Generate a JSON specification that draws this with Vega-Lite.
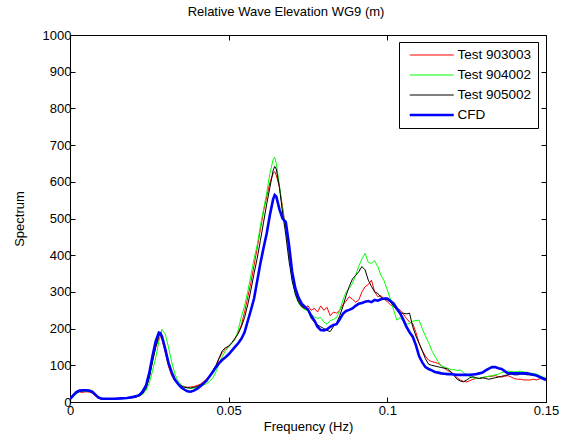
{
  "$schema": "https://vega.github.io/schema/vega-lite/v6.json",
  "width": 476,
  "height": 367,
  "autosize": {"type": "none"},
  "padding": {"left": 70, "top": 35, "right": 15, "bottom": 43},
  "background": "#ffffff",
  "title": {"text": "Relative Wave Elevation WG9 (m)", "font": "Liberation Sans", "fontSize": 13, "fontWeight": "normal", "color": "#000000", "dx": -22, "offset": 10},
  "config": {
    "view": {"stroke": "#000000", "strokeWidth": 1},
    "axis": {
      "domainColor": "#000000", "tickColor": "#000000", "tickSize": -5, "grid": false, "labelFlush": false,
      "labelFont": "Liberation Sans", "labelFontSize": 13, "labelColor": "#000000", "labelPadding": 4,
      "titleFont": "Liberation Sans", "titleFontSize": 13, "titleFontWeight": "normal", "titleColor": "#000000"
    }
  },
  "data": {"values": [
    {"f":0.000,"Test 903003":8,"Test 904002":8,"Test 905002":8,"CFD":8},
    {"f":0.001,"Test 903003":15,"Test 904002":14,"Test 905002":16,"CFD":18},
    {"f":0.002,"Test 903003":24,"Test 904002":22,"Test 905002":25,"CFD":27},
    {"f":0.003,"Test 903003":27,"Test 904002":28,"Test 905002":29,"CFD":31},
    {"f":0.004,"Test 903003":26,"Test 904002":29,"Test 905002":30,"CFD":32},
    {"f":0.005,"Test 903003":28,"Test 904002":30,"Test 905002":31,"CFD":32},
    {"f":0.006,"Test 903003":27,"Test 904002":29,"Test 905002":30,"CFD":31},
    {"f":0.007,"Test 903003":24,"Test 904002":26,"Test 905002":27,"CFD":28},
    {"f":0.008,"Test 903003":16,"Test 904002":19,"Test 905002":20,"CFD":20},
    {"f":0.009,"Test 903003":10,"Test 904002":12,"Test 905002":13,"CFD":12},
    {"f":0.010,"Test 903003":8,"Test 904002":9,"Test 905002":10,"CFD":9},
    {"f":0.012,"Test 903003":8,"Test 904002":8,"Test 905002":9,"CFD":9},
    {"f":0.014,"Test 903003":9,"Test 904002":8,"Test 905002":8,"CFD":9},
    {"f":0.016,"Test 903003":9,"Test 904002":9,"Test 905002":10,"CFD":10},
    {"f":0.018,"Test 903003":10,"Test 904002":10,"Test 905002":11,"CFD":11},
    {"f":0.020,"Test 903003":12,"Test 904002":13,"Test 905002":12,"CFD":14},
    {"f":0.021,"Test 903003":14,"Test 904002":15,"Test 905002":14,"CFD":16},
    {"f":0.022,"Test 903003":18,"Test 904002":17,"Test 905002":17,"CFD":20},
    {"f":0.023,"Test 903003":26,"Test 904002":22,"Test 905002":24,"CFD":30},
    {"f":0.024,"Test 903003":40,"Test 904002":32,"Test 905002":38,"CFD":46},
    {"f":0.025,"Test 903003":70,"Test 904002":52,"Test 905002":66,"CFD":80},
    {"f":0.026,"Test 903003":110,"Test 904002":85,"Test 905002":110,"CFD":125},
    {"f":0.027,"Test 903003":148,"Test 904002":120,"Test 905002":150,"CFD":165},
    {"f":0.028,"Test 903003":172,"Test 904002":165,"Test 905002":180,"CFD":189},
    {"f":0.0285,"Test 903003":178,"Test 904002":185,"Test 905002":185,"CFD":188},
    {"f":0.029,"Test 903003":170,"Test 904002":198,"Test 905002":178,"CFD":178},
    {"f":0.030,"Test 903003":135,"Test 904002":185,"Test 905002":140,"CFD":145},
    {"f":0.031,"Test 903003":98,"Test 904002":151,"Test 905002":105,"CFD":108},
    {"f":0.032,"Test 903003":72,"Test 904002":110,"Test 905002":78,"CFD":82},
    {"f":0.033,"Test 903003":58,"Test 904002":78,"Test 905002":60,"CFD":62},
    {"f":0.034,"Test 903003":50,"Test 904002":58,"Test 905002":50,"CFD":50},
    {"f":0.035,"Test 903003":45,"Test 904002":47,"Test 905002":44,"CFD":40},
    {"f":0.036,"Test 903003":42,"Test 904002":41,"Test 905002":40,"CFD":34},
    {"f":0.037,"Test 903003":40,"Test 904002":38,"Test 905002":39,"CFD":29},
    {"f":0.038,"Test 903003":41,"Test 904002":37,"Test 905002":38,"CFD":28},
    {"f":0.039,"Test 903003":42,"Test 904002":38,"Test 905002":40,"CFD":31},
    {"f":0.040,"Test 903003":45,"Test 904002":40,"Test 905002":42,"CFD":36},
    {"f":0.041,"Test 903003":48,"Test 904002":42,"Test 905002":46,"CFD":42},
    {"f":0.042,"Test 903003":55,"Test 904002":46,"Test 905002":52,"CFD":50},
    {"f":0.043,"Test 903003":62,"Test 904002":50,"Test 905002":60,"CFD":58},
    {"f":0.044,"Test 903003":72,"Test 904002":56,"Test 905002":70,"CFD":70},
    {"f":0.045,"Test 903003":85,"Test 904002":66,"Test 905002":86,"CFD":82},
    {"f":0.046,"Test 903003":98,"Test 904002":82,"Test 905002":100,"CFD":95},
    {"f":0.047,"Test 903003":118,"Test 904002":105,"Test 905002":120,"CFD":106},
    {"f":0.048,"Test 903003":135,"Test 904002":124,"Test 905002":140,"CFD":115},
    {"f":0.049,"Test 903003":145,"Test 904002":140,"Test 905002":148,"CFD":122},
    {"f":0.050,"Test 903003":152,"Test 904002":150,"Test 905002":152,"CFD":130},
    {"f":0.051,"Test 903003":160,"Test 904002":160,"Test 905002":162,"CFD":140},
    {"f":0.052,"Test 903003":172,"Test 904002":170,"Test 905002":174,"CFD":150},
    {"f":0.053,"Test 903003":188,"Test 904002":196,"Test 905002":186,"CFD":160},
    {"f":0.054,"Test 903003":210,"Test 904002":232,"Test 905002":205,"CFD":172},
    {"f":0.055,"Test 903003":245,"Test 904002":262,"Test 905002":230,"CFD":190},
    {"f":0.056,"Test 903003":285,"Test 904002":300,"Test 905002":265,"CFD":220},
    {"f":0.057,"Test 903003":325,"Test 904002":345,"Test 905002":305,"CFD":250},
    {"f":0.058,"Test 903003":372,"Test 904002":390,"Test 905002":350,"CFD":282},
    {"f":0.059,"Test 903003":420,"Test 904002":428,"Test 905002":392,"CFD":330},
    {"f":0.060,"Test 903003":470,"Test 904002":480,"Test 905002":440,"CFD":378},
    {"f":0.061,"Test 903003":520,"Test 904002":525,"Test 905002":490,"CFD":420},
    {"f":0.062,"Test 903003":560,"Test 904002":570,"Test 905002":540,"CFD":460},
    {"f":0.063,"Test 903003":598,"Test 904002":623,"Test 905002":585,"CFD":510},
    {"f":0.064,"Test 903003":622,"Test 904002":660,"Test 905002":630,"CFD":552},
    {"f":0.0645,"Test 903003":628,"Test 904002":667,"Test 905002":642,"CFD":564},
    {"f":0.065,"Test 903003":618,"Test 904002":650,"Test 905002":635,"CFD":560},
    {"f":0.066,"Test 903003":585,"Test 904002":590,"Test 905002":585,"CFD":525},
    {"f":0.067,"Test 903003":530,"Test 904002":520,"Test 905002":515,"CFD":500},
    {"f":0.068,"Test 903003":470,"Test 904002":475,"Test 905002":455,"CFD":490},
    {"f":0.069,"Test 903003":400,"Test 904002":410,"Test 905002":385,"CFD":430},
    {"f":0.070,"Test 903003":345,"Test 904002":335,"Test 905002":330,"CFD":355},
    {"f":0.071,"Test 903003":300,"Test 904002":292,"Test 905002":295,"CFD":310},
    {"f":0.072,"Test 903003":278,"Test 904002":270,"Test 905002":272,"CFD":285},
    {"f":0.073,"Test 903003":262,"Test 904002":258,"Test 905002":260,"CFD":268},
    {"f":0.074,"Test 903003":255,"Test 904002":252,"Test 905002":255,"CFD":260},
    {"f":0.075,"Test 903003":262,"Test 904002":248,"Test 905002":250,"CFD":252},
    {"f":0.076,"Test 903003":250,"Test 904002":240,"Test 905002":228,"CFD":235},
    {"f":0.077,"Test 903003":255,"Test 904002":232,"Test 905002":218,"CFD":222},
    {"f":0.078,"Test 903003":245,"Test 904002":228,"Test 905002":210,"CFD":205},
    {"f":0.079,"Test 903003":262,"Test 904002":230,"Test 905002":205,"CFD":196},
    {"f":0.080,"Test 903003":250,"Test 904002":218,"Test 905002":200,"CFD":195},
    {"f":0.081,"Test 903003":258,"Test 904002":212,"Test 905002":195,"CFD":198},
    {"f":0.082,"Test 903003":235,"Test 904002":222,"Test 905002":192,"CFD":205},
    {"f":0.083,"Test 903003":245,"Test 904002":225,"Test 905002":205,"CFD":210},
    {"f":0.084,"Test 903003":242,"Test 904002":230,"Test 905002":215,"CFD":212},
    {"f":0.085,"Test 903003":250,"Test 904002":250,"Test 905002":235,"CFD":225},
    {"f":0.086,"Test 903003":265,"Test 904002":278,"Test 905002":260,"CFD":240},
    {"f":0.087,"Test 903003":275,"Test 904002":300,"Test 905002":290,"CFD":248},
    {"f":0.088,"Test 903003":287,"Test 904002":310,"Test 905002":315,"CFD":251},
    {"f":0.089,"Test 903003":280,"Test 904002":323,"Test 905002":335,"CFD":255},
    {"f":0.090,"Test 903003":272,"Test 904002":345,"Test 905002":345,"CFD":262},
    {"f":0.091,"Test 903003":278,"Test 904002":370,"Test 905002":355,"CFD":268},
    {"f":0.092,"Test 903003":300,"Test 904002":390,"Test 905002":369,"CFD":270},
    {"f":0.093,"Test 903003":314,"Test 904002":405,"Test 905002":360,"CFD":273},
    {"f":0.094,"Test 903003":320,"Test 904002":380,"Test 905002":332,"CFD":275},
    {"f":0.095,"Test 903003":332,"Test 904002":378,"Test 905002":315,"CFD":272},
    {"f":0.096,"Test 903003":300,"Test 904002":385,"Test 905002":300,"CFD":278},
    {"f":0.097,"Test 903003":287,"Test 904002":369,"Test 905002":296,"CFD":276},
    {"f":0.098,"Test 903003":290,"Test 904002":345,"Test 905002":285,"CFD":280},
    {"f":0.099,"Test 903003":280,"Test 904002":330,"Test 905002":280,"CFD":282},
    {"f":0.100,"Test 903003":273,"Test 904002":305,"Test 905002":278,"CFD":282},
    {"f":0.101,"Test 903003":265,"Test 904002":280,"Test 905002":272,"CFD":275},
    {"f":0.102,"Test 903003":260,"Test 904002":250,"Test 905002":262,"CFD":268},
    {"f":0.103,"Test 903003":255,"Test 904002":223,"Test 905002":250,"CFD":255},
    {"f":0.104,"Test 903003":251,"Test 904002":230,"Test 905002":242,"CFD":242},
    {"f":0.105,"Test 903003":240,"Test 904002":220,"Test 905002":242,"CFD":225},
    {"f":0.106,"Test 903003":228,"Test 904002":212,"Test 905002":240,"CFD":205},
    {"f":0.107,"Test 903003":218,"Test 904002":214,"Test 905002":242,"CFD":190},
    {"f":0.108,"Test 903003":214,"Test 904002":220,"Test 905002":205,"CFD":178},
    {"f":0.109,"Test 903003":190,"Test 904002":222,"Test 905002":180,"CFD":155},
    {"f":0.110,"Test 903003":160,"Test 904002":223,"Test 905002":160,"CFD":125},
    {"f":0.111,"Test 903003":140,"Test 904002":200,"Test 905002":140,"CFD":108},
    {"f":0.112,"Test 903003":125,"Test 904002":180,"Test 905002":118,"CFD":95},
    {"f":0.113,"Test 903003":114,"Test 904002":162,"Test 905002":103,"CFD":90},
    {"f":0.114,"Test 903003":110,"Test 904002":140,"Test 905002":100,"CFD":86},
    {"f":0.115,"Test 903003":108,"Test 904002":125,"Test 905002":98,"CFD":82},
    {"f":0.116,"Test 903003":105,"Test 904002":110,"Test 905002":96,"CFD":80},
    {"f":0.117,"Test 903003":100,"Test 904002":98,"Test 905002":94,"CFD":78},
    {"f":0.118,"Test 903003":92,"Test 904002":95,"Test 905002":92,"CFD":77},
    {"f":0.119,"Test 903003":85,"Test 904002":92,"Test 905002":90,"CFD":76},
    {"f":0.120,"Test 903003":83,"Test 904002":88,"Test 905002":82,"CFD":76},
    {"f":0.121,"Test 903003":75,"Test 904002":88,"Test 905002":72,"CFD":75},
    {"f":0.122,"Test 903003":66,"Test 904002":86,"Test 905002":62,"CFD":74},
    {"f":0.123,"Test 903003":60,"Test 904002":87,"Test 905002":57,"CFD":74},
    {"f":0.124,"Test 903003":56,"Test 904002":80,"Test 905002":55,"CFD":74},
    {"f":0.125,"Test 903003":55,"Test 904002":74,"Test 905002":60,"CFD":74},
    {"f":0.126,"Test 903003":58,"Test 904002":70,"Test 905002":66,"CFD":74},
    {"f":0.127,"Test 903003":62,"Test 904002":66,"Test 905002":69,"CFD":75},
    {"f":0.128,"Test 903003":64,"Test 904002":64,"Test 905002":66,"CFD":76},
    {"f":0.129,"Test 903003":64,"Test 904002":65,"Test 905002":64,"CFD":78},
    {"f":0.130,"Test 903003":66,"Test 904002":67,"Test 905002":66,"CFD":80},
    {"f":0.131,"Test 903003":68,"Test 904002":69,"Test 905002":64,"CFD":86},
    {"f":0.132,"Test 903003":70,"Test 904002":70,"Test 905002":62,"CFD":91},
    {"f":0.133,"Test 903003":70,"Test 904002":72,"Test 905002":64,"CFD":95},
    {"f":0.134,"Test 903003":72,"Test 904002":74,"Test 905002":66,"CFD":95},
    {"f":0.135,"Test 903003":69,"Test 904002":76,"Test 905002":68,"CFD":92},
    {"f":0.136,"Test 903003":68,"Test 904002":80,"Test 905002":70,"CFD":90},
    {"f":0.137,"Test 903003":70,"Test 904002":82,"Test 905002":72,"CFD":84},
    {"f":0.138,"Test 903003":72,"Test 904002":84,"Test 905002":74,"CFD":78},
    {"f":0.139,"Test 903003":68,"Test 904002":83,"Test 905002":76,"CFD":78},
    {"f":0.140,"Test 903003":64,"Test 904002":82,"Test 905002":74,"CFD":78},
    {"f":0.141,"Test 903003":62,"Test 904002":83,"Test 905002":74,"CFD":78},
    {"f":0.142,"Test 903003":62,"Test 904002":84,"Test 905002":76,"CFD":78},
    {"f":0.143,"Test 903003":60,"Test 904002":82,"Test 905002":76,"CFD":78},
    {"f":0.144,"Test 903003":60,"Test 904002":80,"Test 905002":74,"CFD":78},
    {"f":0.145,"Test 903003":60,"Test 904002":78,"Test 905002":74,"CFD":76},
    {"f":0.146,"Test 903003":62,"Test 904002":78,"Test 905002":72,"CFD":74},
    {"f":0.147,"Test 903003":60,"Test 904002":76,"Test 905002":72,"CFD":72},
    {"f":0.148,"Test 903003":63,"Test 904002":72,"Test 905002":70,"CFD":68},
    {"f":0.149,"Test 903003":64,"Test 904002":68,"Test 905002":66,"CFD":64},
    {"f":0.150,"Test 903003":64,"Test 904002":64,"Test 905002":64,"CFD":60}
  ]},
  "transform": [{"fold": ["Test 903003", "Test 904002", "Test 905002", "CFD"], "as": ["k", "s"]}],
  "layer": [
    {
      "mark": {"type": "line", "clip": true},
      "encoding": {
        "x": {"field": "f", "type": "quantitative", "scale": {"domain": [0, 0.15], "nice": false, "zero": false},
              "axis": {"orient": "bottom", "values": [0, 0.05, 0.1, 0.15], "format": ".2~f", "labelPadding": 7, "title": "Frequency (Hz)", "titlePadding": 3}},
        "y": {"field": "s", "type": "quantitative", "scale": {"domain": [0, 1000], "nice": false},
              "axis": {"orient": "left", "values": [0, 100, 200, 300, 400, 500, 600, 700, 800, 900, 1000], "format": "d", "title": "Spectrum", "titlePadding": 16}},
        "color": {"field": "k", "type": "nominal",
                  "scale": {"domain": ["Test 903003", "Test 904002", "Test 905002", "CFD"], "range": ["#ff0000", "#00ff00", "#000000", "#0000ff"]},
                  "legend": {"orient": "none", "legendX": 329, "legendY": 7, "title": null, "symbolType": "stroke", "symbolSize": 1936, "symbolOffset": 20, "clipHeight": 14, "rowPadding": 6, "padding": 6, "strokeColor": "#000000", "fillColor": "#ffffff", "cornerRadius": 0, "labelFont": "Liberation Sans", "labelFontSize": 13.5, "labelColor": "#000000", "labelOffset": 19,
                             "encode": {"symbols": {"update": {"strokeWidth": {"signal": "datum.value === 'CFD' ? 2.6 : 1"}}}}}},
        "strokeWidth": {"condition": {"test": "datum.k === 'CFD'", "value": 2.6}, "value": 1}
      }
    },
    {
      "transform": [{"filter": "datum.k === 'CFD'"}],
      "mark": {"type": "line", "opacity": 0, "clip": true},
      "encoding": {
        "x": {"field": "f", "type": "quantitative", "axis": {"orient": "top", "values": [0, 0.05, 0.1, 0.15], "labels": false, "title": null, "domain": false}},
        "y": {"field": "s", "type": "quantitative", "axis": {"orient": "right", "values": [0, 100, 200, 300, 400, 500, 600, 700, 800, 900, 1000], "labels": false, "title": null, "domain": false}}
      }
    }
  ]
}
